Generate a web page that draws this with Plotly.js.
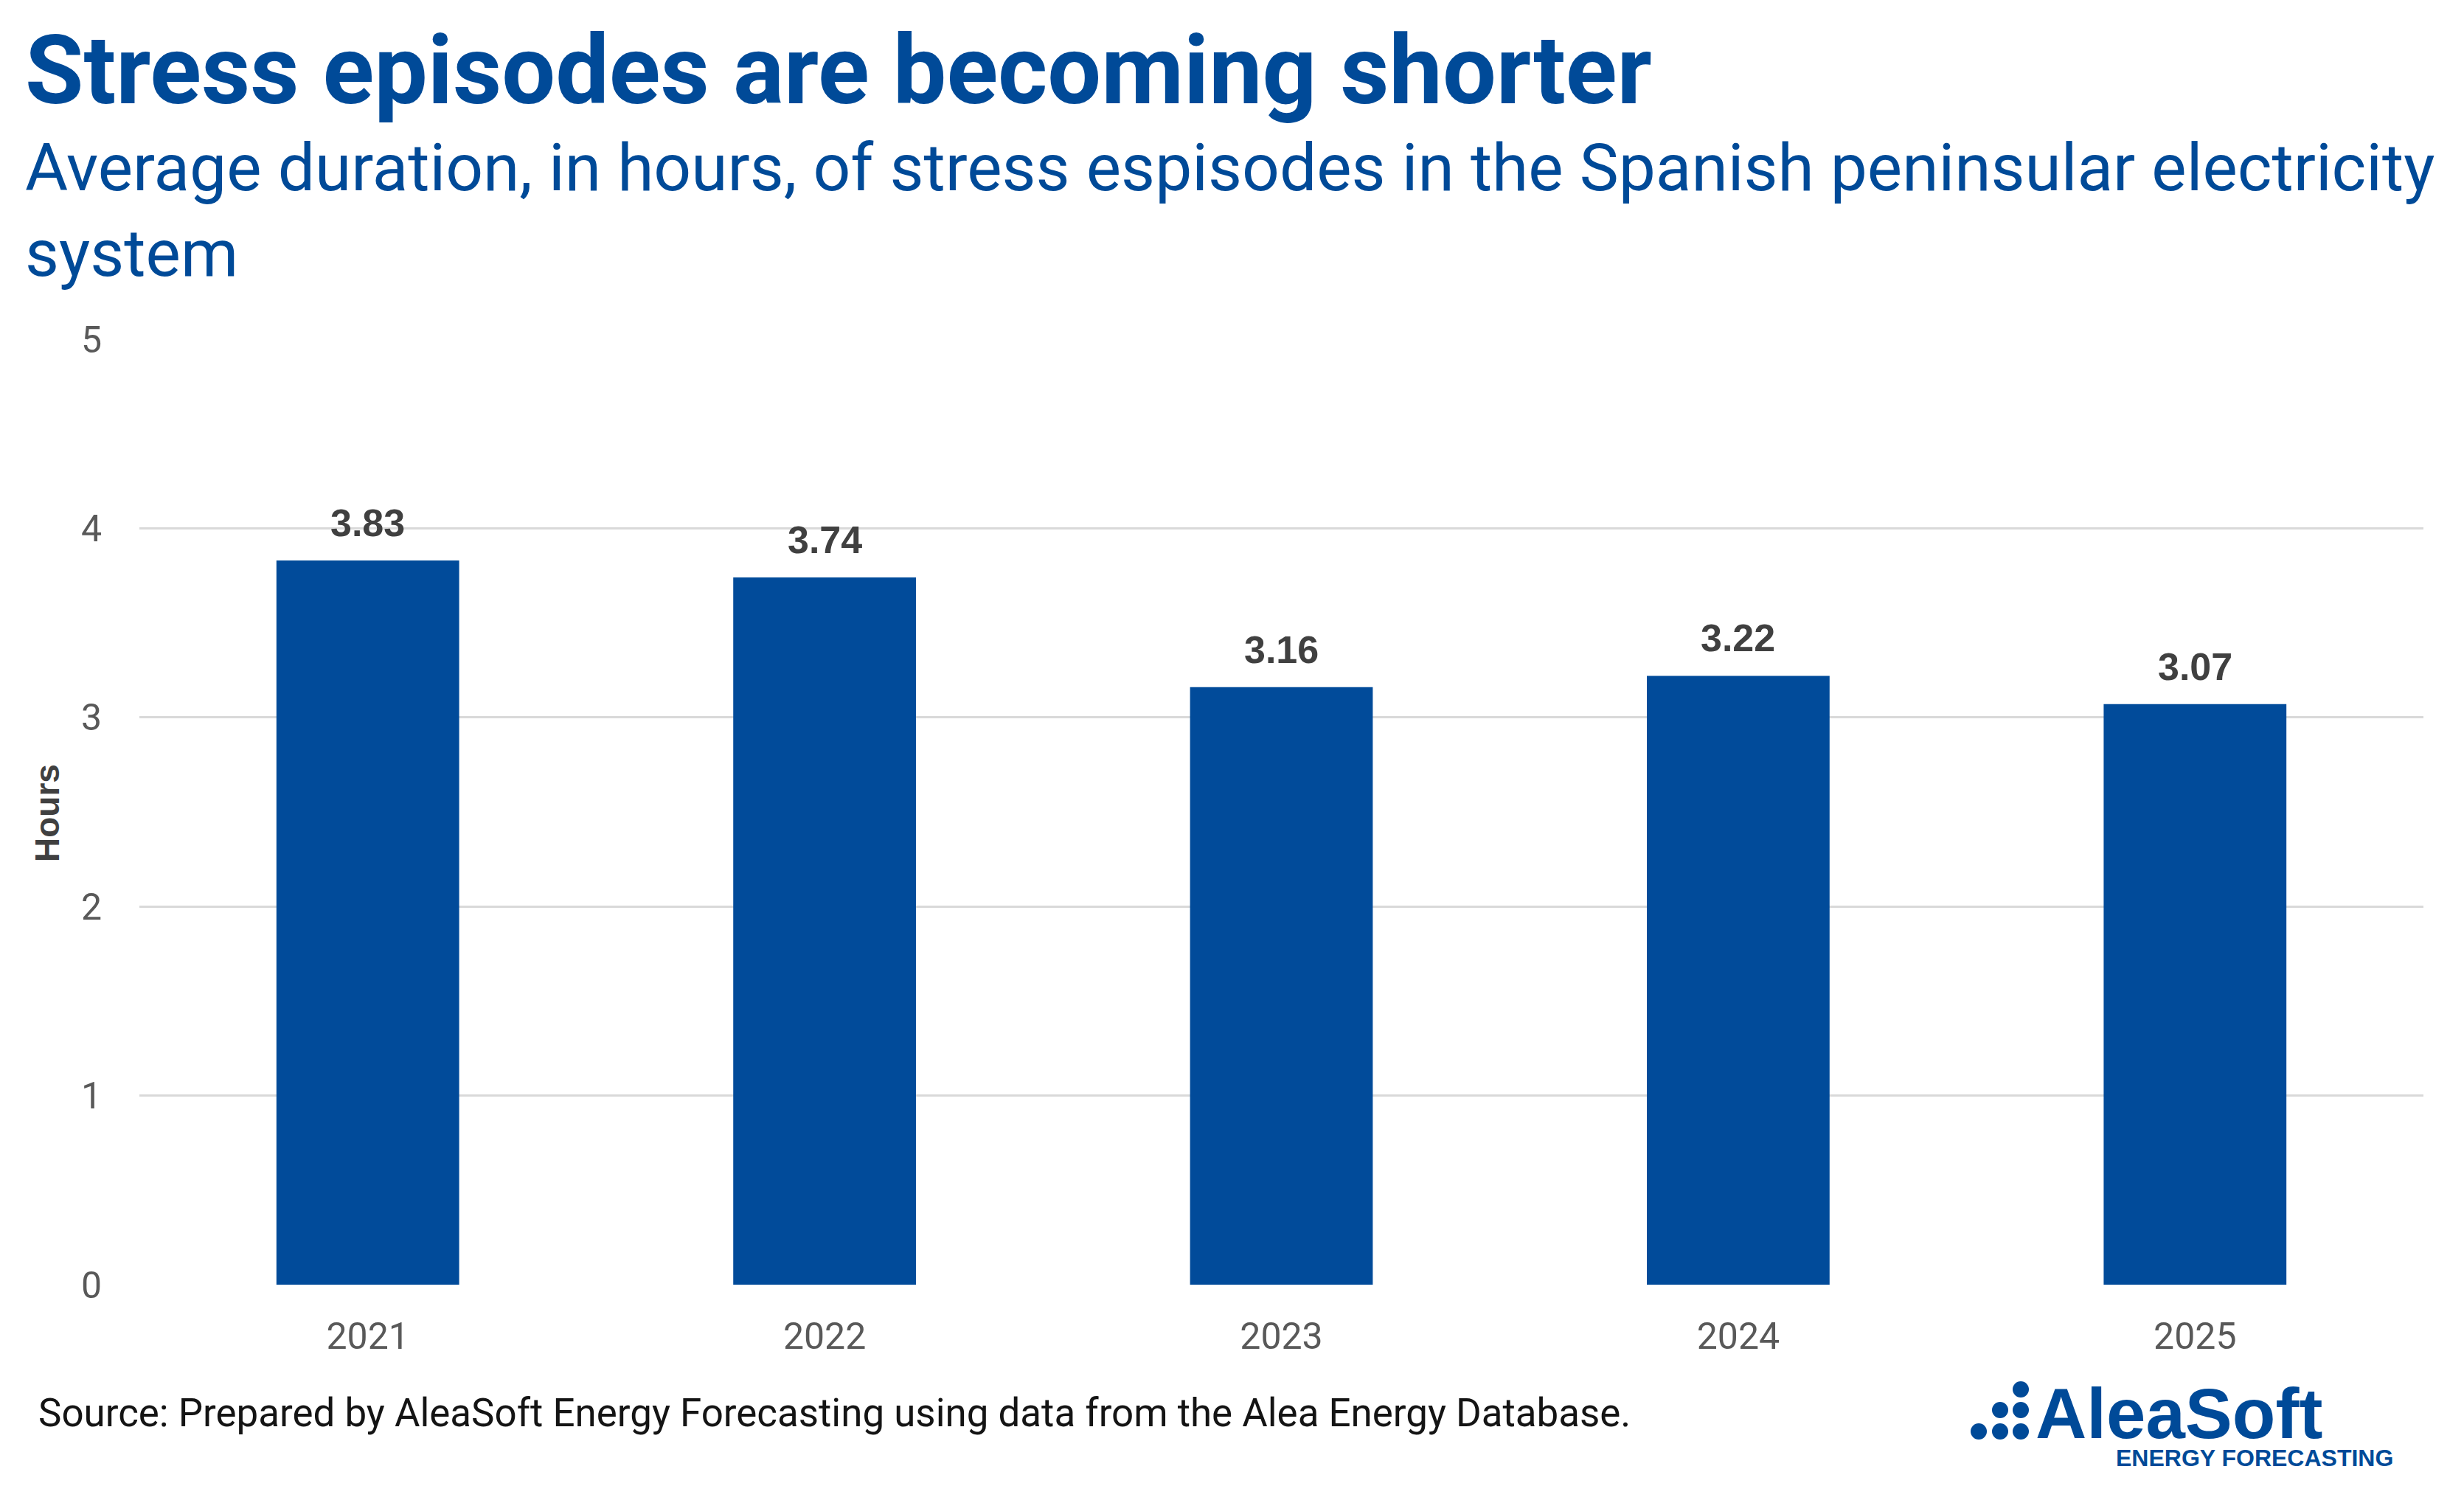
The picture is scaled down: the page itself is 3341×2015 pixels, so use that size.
<!DOCTYPE html>
<html>
<head>
<meta charset="utf-8">
<script src="https://cdn.plot.ly/plotly-3.0.1.min.js"></script>
<style>
  html, body { margin: 0; padding: 0; background: #fff; }
  #chart { width: 3341px; height: 2015px; }
</style>
</head>
<body>
<div id="chart"></div>
<script>
// --- data ---
const years = ['2021', '2022', '2023', '2024', '2025'];
const hours = [3.83, 3.74, 3.16, 3.22, 3.07];
const yTicks = [0, 1, 2, 3, 4, 5];

const titleText = 'Stress episodes are becoming shorter';
const subtitleLine1 = 'Average duration, in hours, of stress espisodes in the Spanish peninsular electricity';
const subtitleLine2 = 'system';
const sourceText = 'Source: Prepared by AleaSoft Energy Forecasting using data from the Alea Energy Database.';

// --- styling ---
const blue = '#004A98';
const barBlue = '#014B9A';
const tickGrey = '#595959';
const labelGrey = '#404040';
const gridGrey = '#D9D9D9';
const textFont = 'Roboto';
const arialLike = 'Liberation Sans, Arial, sans-serif';

// figure geometry (pixels)
const W = 3341, H = 2015;
const L = 189, R = 55, T = 460, B = 273;
const PW = W - L - R, PH = H - T - B;
const px = x => (x - L) / PW;
const py = y => (H - B - y) / PH;

// fit a font size so the text spans a given pixel width
function fitSize(text, weight, family, target) {
    const ctx = document.createElement('canvas').getContext('2d');
    ctx.font = `${weight} 100px "${family}"`;
    return 100 * target / ctx.measureText(text).width;
}

const titleSize = fitSize(titleText, 'bold', textFont, 2206);
const subSize = fitSize(subtitleLine1, 'normal', textFont, 3268);
const sourceSize = fitSize(sourceText, 'normal', textFont, 2160);

const barTrace = {
    type: 'bar',
    x: years,
    y: hours,
    marker: { color: barBlue },
    hoverinfo: 'x+y',
    showlegend: false
};

// value labels above the bars (x given as category index)
const valueLabels = years.map((yr, i) => ({
    x: i, y: hours[i], xref: 'x', yref: 'y',
    text: hours[i].toFixed(2),
    showarrow: false,
    yanchor: 'bottom',
    yshift: 20,
    font: { family: arialLike, size: 52, color: labelGrey, weight: 'bold' }
}));

const textAnnotations = [
    {
        text: '<b>' + titleText + '</b>',
        x: px(32), y: py(96), xref: 'paper', yref: 'paper',
        xanchor: 'left', yanchor: 'middle', showarrow: false,
        font: { family: textFont, size: titleSize, color: blue }
    },
    {
        text: subtitleLine1 + '<br>' + subtitleLine2,
        x: px(32), y: py(286), xref: 'paper', yref: 'paper',
        xanchor: 'left', yanchor: 'middle', align: 'left', showarrow: false,
        font: { family: textFont, size: subSize, color: blue }
    },
    {
        text: '<b>Hours</b>',
        x: px(64), y: py(1103), xref: 'paper', yref: 'paper',
        xanchor: 'center', yanchor: 'middle', textangle: -90, showarrow: false,
        font: { family: arialLike, size: 46, color: labelGrey }
    },
    {
        text: sourceText,
        x: px(50), y: py(1916), xref: 'paper', yref: 'paper',
        xanchor: 'left', yanchor: 'middle', showarrow: false,
        font: { family: textFont, size: sourceSize, color: '#141414' }
    },
    {
        text: '<b>AleaSoft</b>',
        x: px(2758), y: py(1916), xref: 'paper', yref: 'paper',
        xanchor: 'left', yanchor: 'middle', showarrow: false,
        font: { family: arialLike, size: 96, color: blue }
    },
    {
        text: '<b>ENERGY FORECASTING</b>',
        x: px(3247), y: py(1977), xref: 'paper', yref: 'paper',
        xanchor: 'right', yanchor: 'middle', showarrow: false,
        font: { family: arialLike, size: 32, color: blue }
    }
];

// logo dots: columns of 1, 2 and 3 dots
const dotCols = [2683, 2712, 2740];
const dotRows = [1941, 1912, 1884];
const dotR = 11;
const logoDots = [];
dotCols.forEach((cx, c) => {
    for (let r = 0; r <= c; r++) {
        const cy = dotRows[r];
        logoDots.push({
            type: 'circle', xref: 'paper', yref: 'paper',
            x0: px(cx - dotR), x1: px(cx + dotR),
            y0: py(cy + dotR), y1: py(cy - dotR),
            fillcolor: blue, line: { width: 0 }
        });
    }
});

const layout = {
    width: W,
    height: H,
    margin: { l: L, r: R, t: T, b: B, pad: 0 },
    paper_bgcolor: '#fff',
    plot_bgcolor: '#fff',
    bargap: 0.6,
    showlegend: false,
    xaxis: {
        type: 'category',
        range: [-0.5, years.length - 0.5],
        showgrid: false,
        showline: false,
        zeroline: false,
        ticks: '',
        ticklabelstandoff: 36,
        tickfont: { family: textFont, size: 50, color: tickGrey }
    },
    yaxis: {
        range: [0, 5],
        tickvals: yTicks,
        showgrid: true,
        gridcolor: gridGrey,
        gridwidth: 3,
        zeroline: false,
        showline: false,
        ticks: '',
        ticklabelstandoff: 50,
        tickfont: { family: textFont, size: 50, color: tickGrey }
    },
    annotations: [...valueLabels, ...textAnnotations],
    shapes: logoDots
};

Plotly.newPlot('chart', [barTrace], layout, { displayModeBar: false, staticPlot: true });
</script>
</body>
</html>
